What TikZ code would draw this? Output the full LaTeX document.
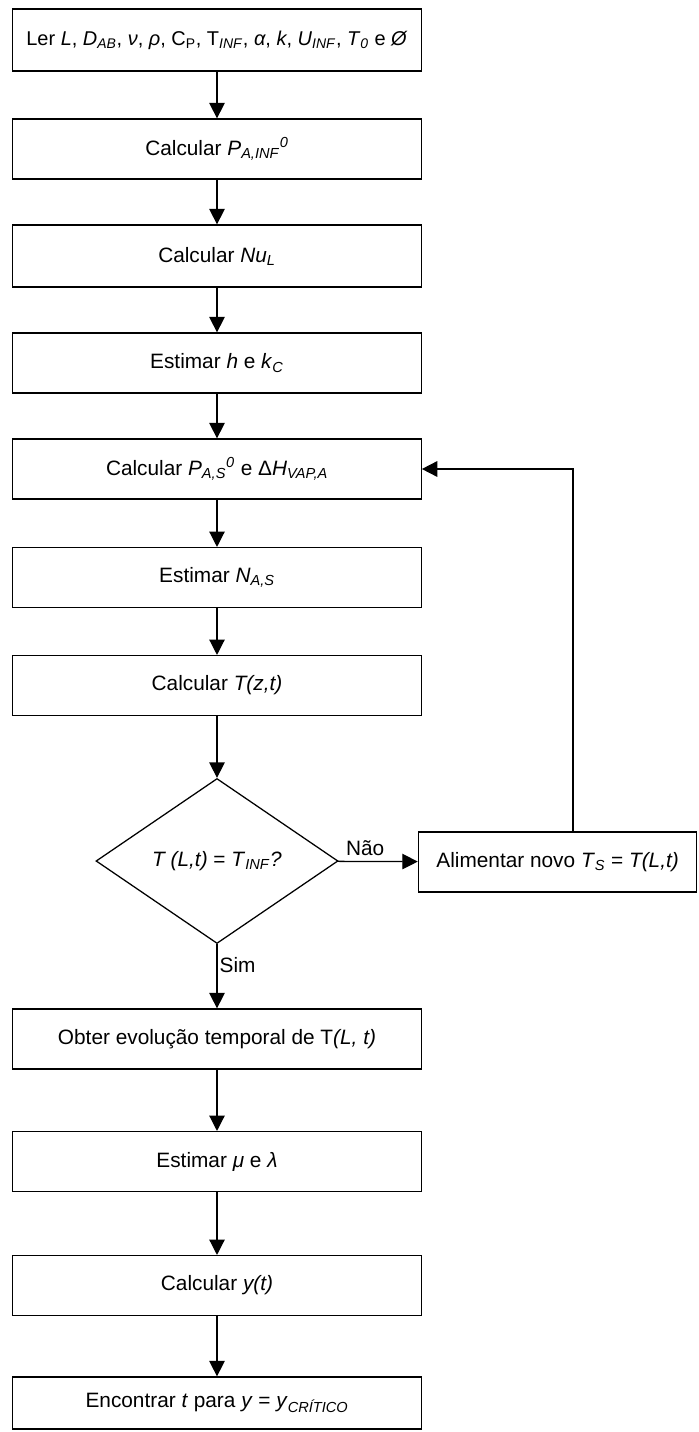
\documentclass[tikz,border=0pt]{standalone}
\usepackage{fontspec}
\setmainfont{Liberation Sans}
\usepackage{tikz}
\usetikzlibrary{arrows.meta,shapes.geometric}

\newcommand{\isub}[1]{\textsubscript{\textit{#1}}}
\newcommand{\isup}[1]{\textsuperscript{\textit{#1}}}

\begin{document}
\begin{tikzpicture}[
  font=\fontsize{14.8}{17}\selectfont,
  box/.style={draw, line width=0.9pt, minimum width=10.21cm, minimum height=1.5cm, inner sep=0pt},
  flow/.style={line width=0.9pt, -{Triangle[length=11pt,width=11pt]}}
]

% Page
\useasboundingbox (0,0) rectangle (17.45,-35.8);

% Parameters
\def\xc{5.425}

% Main column
\node[box, minimum height=1.55cm] (ler) at (\xc,-1.0) {\fontsize{14.2}{17}\selectfont Ler \textit{L}, \textit{D}\isub{AB}, \textit{ν}, \textit{ρ}, C\textsubscript{P}, T\isub{INF}, \textit{α}, \textit{k}, \textit{U}\isub{INF}, \textit{T}\isub{0} e \textit{Ø}};
\node[box] (calcPinf) at (\xc,-3.725) {Calcular \textit{P}\isub{A,INF}\isup{0}};
\node[box, minimum height=1.55cm] (calcNu) at (\xc,-6.4) {Calcular \textit{Nu}\isub{L}};
\node[box] (estH) at (\xc,-9.075) {Estimar \textit{h} e \textit{k}\isub{C}};
\node[box] (calcPs) at (\xc,-11.725) {Calcular \textit{P}\isub{A,S}\isup{0} e Δ\textit{H}\isub{VAP,A}};
\node[box] (estN) at (\xc,-14.44) {Estimar \textit{N}\isub{A,S}};
\node[box] (calcT) at (\xc,-17.14) {Calcular \textit{T(z,t)}};

% Test
\node[draw, diamond, line width=0.9pt, aspect=1.47, inner sep=0pt, minimum width=6.05cm, minimum height=4.125cm] (teste) at (\xc,-21.525) {\textit{T (L,t)} = \textit{T}\isub{INF}\textit{?}};
\node[box, minimum width=6.96cm] (alim) at (13.94,-21.55) {Alimentar novo \textit{T}\isub{S} = \textit{T(L,t)}};

\node[box] (obter) at (\xc,-25.975) {Obter evolução temporal de T\textit{(L, t)}};
\node[box] (estMu) at (\xc,-29.04) {Estimar \textit{μ} e \textit{λ}};
\node[box] (calcY) at (\xc,-32.14) {Calcular \textit{y(t)}};
\node[box, minimum height=1.3cm] (encontrar) at (\xc,-35.075) {Encontrar \textit{t} para \textit{y} = \textit{y}\isub{CRÍTICO}};

% Arrows
\draw[flow] (ler) -- (calcPinf);
\draw[flow] (calcPinf) -- (calcNu);
\draw[flow] (calcNu) -- (estH);
\draw[flow] (estH) -- (calcPs);
\draw[flow] (calcPs) -- (estN);
\draw[flow] (estN) -- (calcT);
\draw[flow] (calcT) -- (teste);
\draw[flow] (teste) -- node[above, pos=0.34] (nao) {Não} (alim);
\draw[flow] (teste) -- node[right, pos=0.33, inner sep=1.5pt] (sim) {Sim} (obter);
\draw[flow] (obter) -- (estMu);
\draw[flow] (estMu) -- (calcY);
\draw[flow] (calcY) -- (encontrar);

% Feedback loop
\coordinate (volta) at (14.325,0);
\draw[flow, line width=1.2pt] (alim.north -| volta) |- (calcPs.east);

\end{tikzpicture}
\end{document}
